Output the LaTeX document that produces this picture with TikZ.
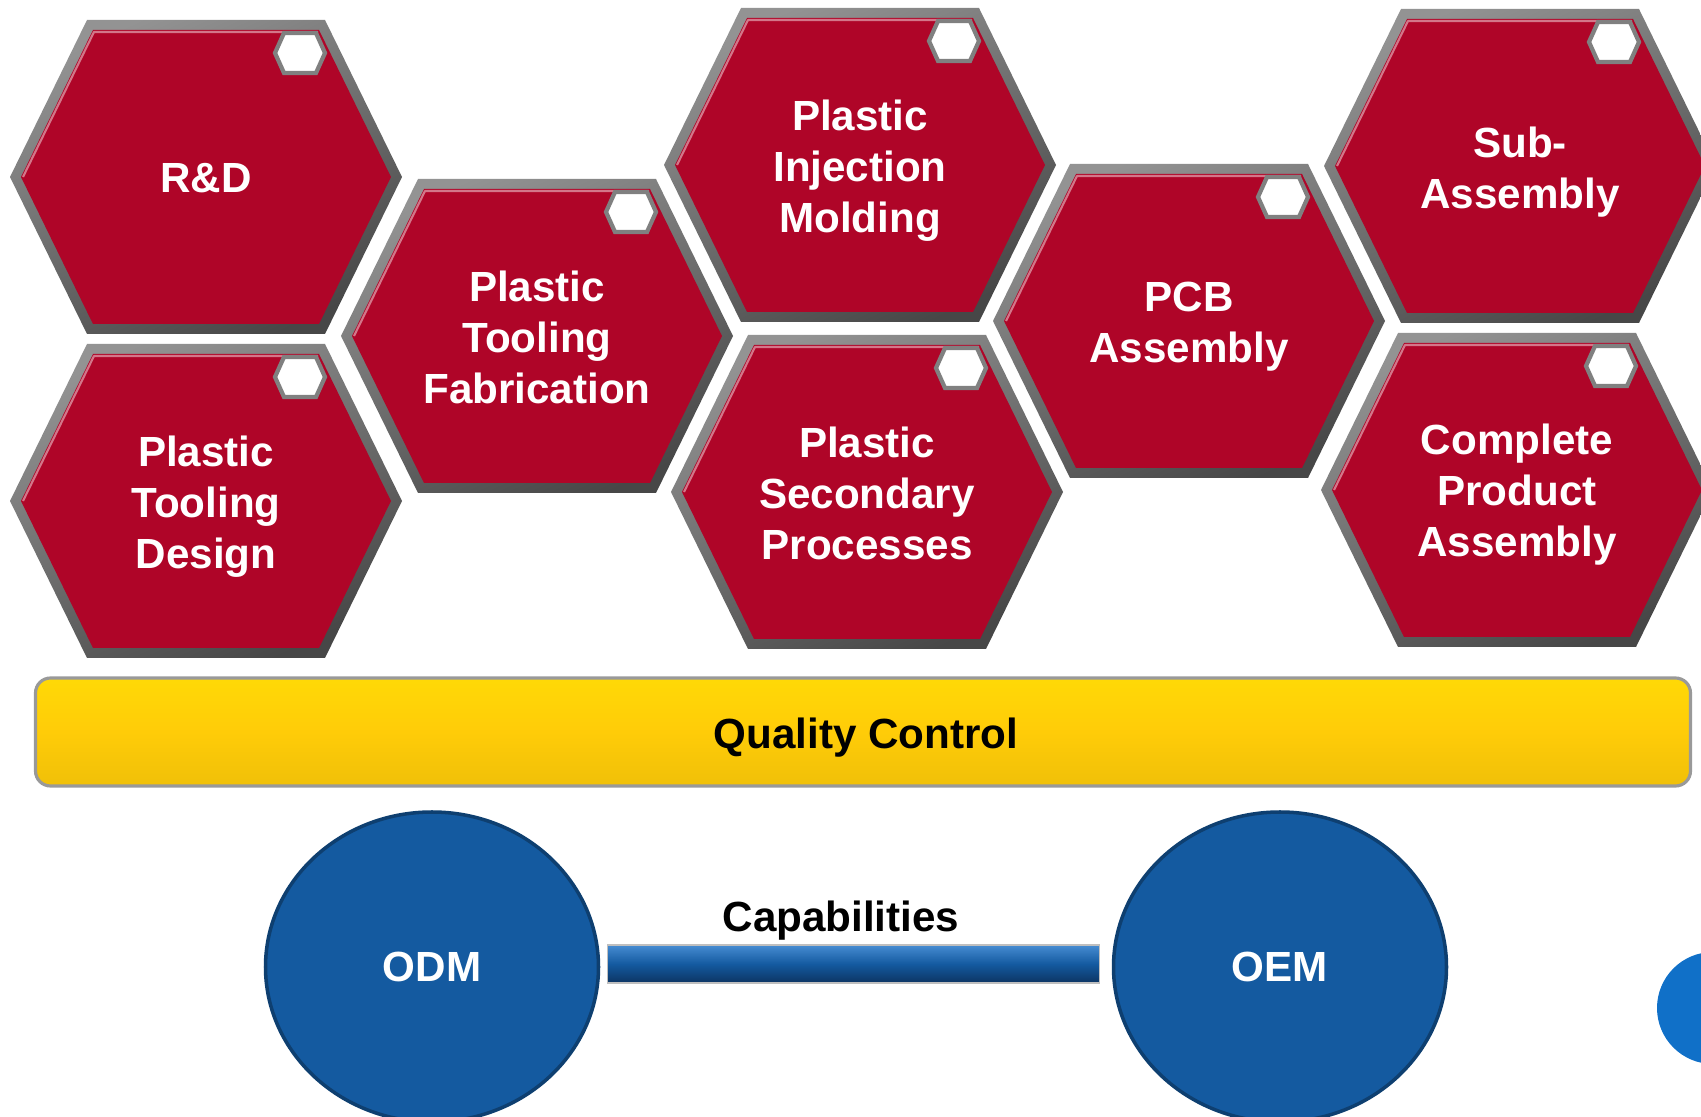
\documentclass[tikz,border=0pt]{standalone}
\usepackage{fontspec}
\setmainfont{Liberation Sans}
\usetikzlibrary{shapes.geometric}

\definecolor{hexred}{RGB}{175,5,40}
\definecolor{qcgold}{RGB}{255,204,8}
\definecolor{capblue}{RGB}{20,90,160}
\definecolor{barlight}{RGB}{70,140,210}
\definecolor{bardark}{RGB}{12,52,98}
\definecolor{dotblue}{RGB}{16,112,200}

\begin{document}
\begin{tikzpicture}
  [x=0.1mm,y=-0.1mm,
   every node/.style={font=\fontsize{12}{14.5}\selectfont\bfseries},
   hexbevel/.style={top color=gray!85, bottom color=black!72, shading angle=25},
   hexface/.style={fill=hexred},
   hexshine/.style={draw=hexred!55!white, line width=0.6pt, line join=round},
   badge/.style={fill=white, draw=gray, line width=1.2pt},
   hexlabel/.style={text=white, align=center},
   qcbar/.style={rectangle, rounded corners=1.5mm, draw=gray!80, line width=0.9pt,
     top color=qcgold!75!yellow, bottom color=qcgold!94!black, middle color=qcgold,
     minimum width=165.5mm, minimum height=10.8mm},
   capnode/.style={ellipse, fill=capblue, draw=capblue!70!black, line width=1pt,
     minimum width=33.3mm, minimum height=31mm, inner sep=0pt, text=white},
   linkbar/.style={top color=barlight, bottom color=bardark, middle color=capblue,
     draw=gray!50, line width=0.3pt}]
  \useasboundingbox (0,0) rectangle (1701,1117);
  \clip (0,0) rectangle (1701,1117);

  % process hexagons, each with its small badge in the upper right corner
  \foreach \nm/\cx/\cy/\ly/\txt in {rd/206/177/178/{R\&D},
      ptd/206/501/507/{Plastic\\Tooling\\Design},
      ptf/537/336/337/{Plastic\\Tooling\\Fabrication},
      pim/860/165/171/{Plastic\\Injection\\Molding},
      psp/867/492/493/{Plastic\\Secondary\\Processes},
      pcb/1189/321/327/{PCB\\Assembly},
      sub/1520/166/172/{Sub-\\Assembly},
      cpa/1517/490/495/{Complete\\Product\\Assembly}}
  {
    \begin{scope}[shift={(\cx,\cy)}]
      \shade[hexbevel] (-196,0) -- (-119,-157) -- (119,-157) -- (196,0) -- (119,157) -- (-119,157) -- cycle;
      \fill[hexface] (-185,0) -- (-113,-147) -- (113,-147) -- (185,0) -- (113,147) -- (-113,147) -- cycle;
      \draw[hexshine] (-183,0) -- (-112,-145) -- (112,-145);
      \draw[badge] (69,-124) -- (78,-144) -- (110,-144) -- (119,-124) -- (110,-104) -- (78,-104) -- cycle;
    \end{scope}
    \node[hexlabel] (\nm) at (\cx,\ly) {\txt};
  }

  \node[qcbar] (qc) at (863,732) {};
  \node (qctext) at (866,738) {Quality Control};

  \node[capnode] (odm) at (432,967) {ODM};
  \node[capnode] (oem) at (1280,967) {OEM};
  \shade[linkbar] ([shift={(7,-22)}]odm.east) rectangle ([shift={(-12,16)}]oem.west);
  \node (caps) at (841,921) {Capabilities};

  \fill[dotblue] (1713,1008) circle [radius=56];

\end{tikzpicture}
\end{document}
